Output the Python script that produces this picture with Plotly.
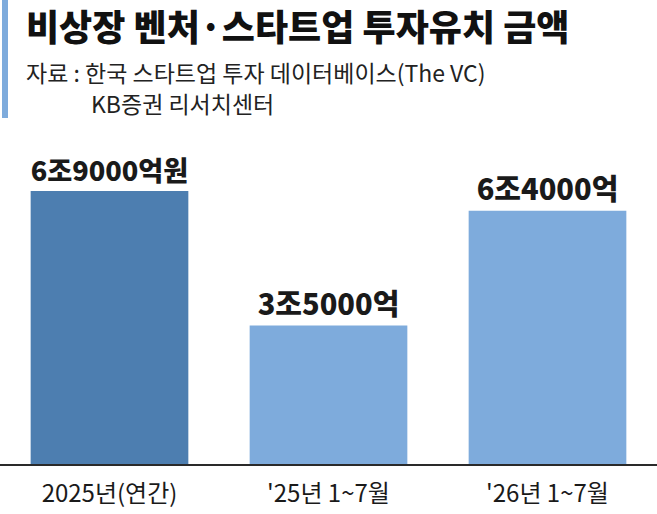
import plotly.graph_objects as go

categories = ["2025년(연간)", "'25년 1~7월", "'26년 1~7월"]
values = [69000, 35000, 64000]          # 억원
value_labels = ["6조9000억원", "3조5000억", "6조4000억"]
bar_colors = ["#4d7eb0", "#7eabdc", "#7eabdc"]

W, H = 657, 514
top, bottom = 140, 50
plot_h = H - top - bottom

def py(Y):
    # pixel row -> paper y
    return (H - bottom - Y) / plot_h

fig = go.Figure()

fig.add_trace(go.Bar(
    x=categories, y=values, width=0.72,
    marker=dict(color=bar_colors, line=dict(width=0)),
    text=value_labels, textposition="outside", cliponaxis=False,
    textfont=dict(family="Noto Sans CJK KR", size=29, color="#1a1a1a", weight=900),
))

fig.update_layout(
    width=W, height=H,
    margin=dict(l=0, r=0, t=top, b=bottom),
    plot_bgcolor="white", paper_bgcolor="white",
    showlegend=False,
    font=dict(family="Noto Sans CJK KR", color="#1a1a1a"),
)
fig.update_xaxes(
    range=[-0.5, 2.5], showline=True, linecolor="#2a2a2a", linewidth=2,
    ticks="outside", ticklen=7, tickcolor="rgba(0,0,0,0)",
    tickfont=dict(size=24, color="#1a1a1a"), showgrid=False,
)
fig.update_yaxes(range=[0, 81900], visible=False, showgrid=False)

# left accent bar
fig.add_shape(type="rect", xref="paper", yref="paper",
              x0=2 / W, x1=8 / W, y0=py(118), y1=py(0),
              fillcolor="#7eabdc", line=dict(width=0))

fig.add_annotation(text="비상장 벤처·스타트업 투자유치 금액", xref="paper", yref="paper",
                   x=24 / W, y=py(25), xanchor="left", yanchor="middle", showarrow=False,
                   font=dict(size=36, color="#111111", weight=900))
fig.add_annotation(text="자료 : 한국 스타트업 투자 데이터베이스(The VC)", xref="paper", yref="paper",
                   x=24 / W, y=py(72), xanchor="left", yanchor="middle", showarrow=False,
                   font=dict(size=23, color="#222222"))
fig.add_annotation(text="KB증권 리서치센터", xref="paper", yref="paper",
                   x=89 / W, y=py(103), xanchor="left", yanchor="middle", showarrow=False,
                   font=dict(size=23, color="#222222"))

fig.write_html("out.html", config={"displayModeBar": False},
               post_script="document.body.style.margin='0';")
